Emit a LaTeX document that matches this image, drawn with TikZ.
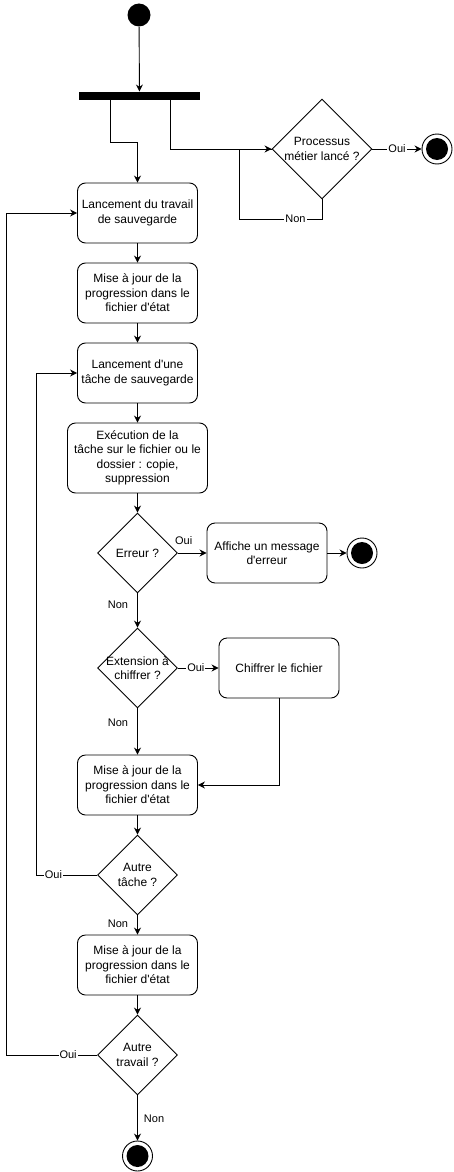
\documentclass[tikz,border=0pt]{standalone}
\usepackage{fontspec}
\setmainfont{Liberation Sans}
\usetikzlibrary{arrows.meta}
\usetikzlibrary{shapes.geometric}

\begin{document}
\begin{tikzpicture}[x=1pt, y=-1pt, line width=0.9pt,
	>={Stealth[length=7pt,width=7pt]},
	action/.style={draw, rectangle, rounded corners=8pt, minimum width=120pt, minimum height=60pt, align=center, inner sep=2pt, font=\fontsize{12}{14.4}\selectfont},
	decision/.style={draw, diamond, minimum width=80pt, minimum height=80pt, inner sep=0pt},
	dtext/.style={align=center, inner sep=0pt, font=\fontsize{12}{14.4}\selectfont},
	startnode/.style={circle, fill, minimum size=23pt, inner sep=0pt},
	endnode/.style={circle, draw, fill=white, minimum size=30pt, inner sep=0pt, path picture={\fill[black] (path picture bounding box.center) circle (11pt);}},
	edgelabel/.style={fill=white, inner sep=1pt, font=\fontsize{11}{13}\selectfont},
	sidelabel/.style={inner sep=1pt, font=\fontsize{11}{13}\selectfont}]
	\useasboundingbox (0,0) rectangle (453,1172);

	% Start and fork
	\node[startnode] (start) at (139,15) {};
	\node[fill, rectangle, minimum width=121pt, minimum height=8pt, inner sep=0pt] (fork) at (139.5,96) {};

	% Business process check
	\node[decision, minimum width=100pt, minimum height=100pt, label={[dtext]center:{Processus\\métier lancé ?}}] (proc) at (322,149) {};
	\node[endnode] (end1) at (437,149) {};

	% Actions
	\node[action] (box1) at (137.5,213) {Lancement du travail\\de sauvegarde};
	\node[action] (box2) at (137.5,293) {Mise à jour de la\\progression dans le\\fichier d\textquotesingle état};
	\node[action] (box3) at (137.5,373) {Lancement d\textquotesingle une\\tâche de sauvegarde};
	\node[action, minimum width=140pt, minimum height=70pt] (box4) at (137.5,458) {Exécution de la\\tâche sur le fichier ou le\\dossier : copie,\\suppression};

	% Error branch
	\node[decision, label={[dtext]center:{Erreur ?}}] (derr) at (137.5,553) {};
	\node[action] (err) at (267,553) {Affiche un message\\d\textquotesingle erreur};
	\node[endnode] (end2) at (362,553) {};

	% Encryption branch
	\node[decision, label={[dtext]center:{Extension à\\chiffrer ?}}] (dext) at (137.5,668) {};
	\node[action] (chif) at (279,668) {Chiffrer le fichier};
	\node[action] (box5) at (137.5,785) {Mise à jour de la\\progression dans le\\fichier d\textquotesingle état};

	% Loops
	\node[decision, label={[dtext]center:{Autre\\tâche ?}}] (dtache) at (137.5,875) {};
	\node[action] (box6) at (137.5,965) {Mise à jour de la\\progression dans le\\fichier d\textquotesingle état};
	\node[decision, label={[dtext]center:{Autre\\travail ?}}] (dtravail) at (137.5,1055) {};
	\node[endnode] (end3) at (137.5,1156) {};

	% Connectors
	\draw[->] (start) -- (fork);
	\draw[->] ([xshift=-29.5pt]fork.south) -- ++(0,42) -| (box1.north);
	\draw[->] ([xshift=30.5pt]fork.south) |- (proc.west);
	\coordinate (procloop) at (239,219);
	\draw (proc.south) |- node[edgelabel, pos=0.66] {Non} (procloop) |- (proc.west);
	\draw[->] (proc.east) -- node[edgelabel, pos=0.5] {Oui} (end1);

	\draw[->] (box1) -- (box2);
	\draw[->] (box2) -- (box3);
	\draw[->] (box3) -- (box4);
	\draw[->] (box4) -- (derr);
	\draw[->] (derr) -- node[sidelabel, above=7pt, pos=0.2] {Oui} (err);
	\draw[->] (err) -- (end2);
	\draw[->] (derr) -- node[sidelabel, left=8pt, pos=0.34] {Non} (dext);
	\draw[->] (dext) -- node[edgelabel, pos=0.44] {Oui} (chif);
	\draw[->] (chif.south) |- (box5.east);
	\draw[->] (dext) -- node[sidelabel, left=8pt, pos=0.32] {Non} (box5);
	\draw[->] (box5) -- (dtache);
	\draw[->] (dtache.west) -- node[edgelabel, pos=0.72] {Oui} ++(-60.5,0) |- (box3.west);
	\draw[->] (dtache) -- node[sidelabel, left=8pt, pos=0.45] {Non} (box6);
	\draw[->] (box6) -- (dtravail);
	\draw[->] (dtravail.west) -- node[edgelabel, pos=0.32] {Oui} ++(-90.5,0) |- (box1.west);
	\draw[->] (dtravail) -- node[sidelabel, right=5pt, pos=0.52] {Non} (end3);
\end{tikzpicture}
\end{document}
